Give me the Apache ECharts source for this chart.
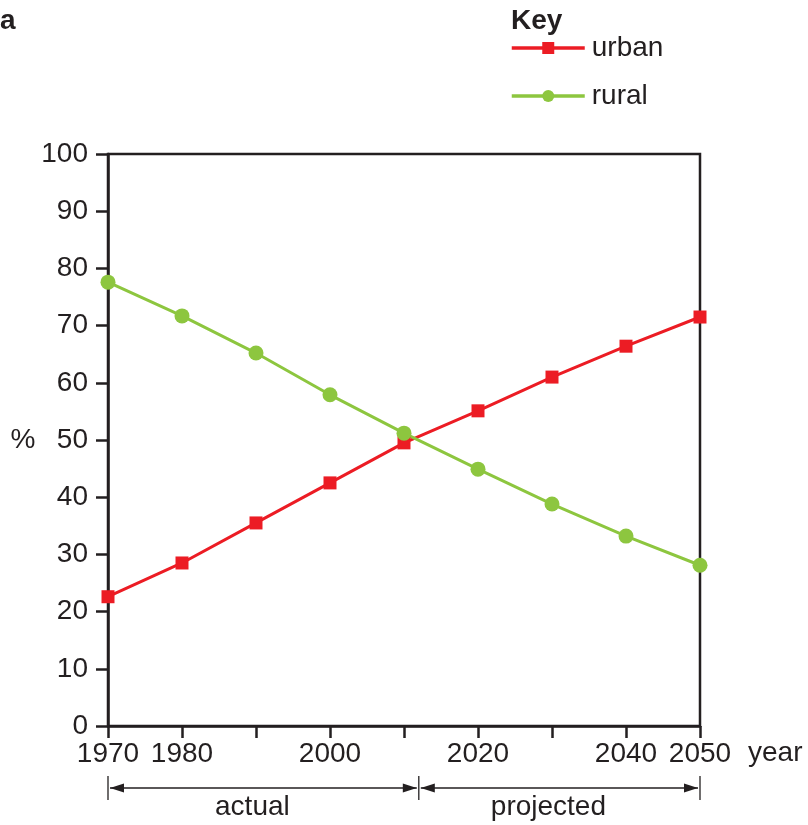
<!DOCTYPE html>
<html><head><meta charset="utf-8">
<script src="https://cdn.jsdelivr.net/npm/echarts@6/dist/echarts.min.js"></script>
<style>html,body{margin:0;padding:0;background:#fff}#c{width:808px;height:825px}</style>
</head><body><div id="c"></div>
<script>
const years = [1970, 1980, 1990, 2000, 2010, 2020, 2030, 2040, 2050];
const urban = [22.6, 28.5, 35.5, 42.5, 49.5, 55.1, 61.0, 66.4, 71.5];
const rural = [77.6, 71.7, 65.2, 57.9, 51.2, 44.9, 38.8, 33.2, 28.1];
const shownYearLabels = [1970, 1980, 2000, 2020, 2040, 2050];
const periodBounds = [1970, 2012, 2050];
const periodLabels = ['actual', 'projected'];

const FONT = '"Liberation Sans", Arial, Helvetica, sans-serif';
const FS = 28;
const INK = '#231f20';
const RED = '#ec1c24';
const GREEN = '#8dc63f';

const chart = echarts.init(document.getElementById('c'));
chart.setOption({
  animation: false,
  backgroundColor: '#fff',
  textStyle: { fontFamily: FONT, color: INK },
  grid: { left: 108, right: 108, top: 154, bottom: 99, show: true, borderColor: INK, borderWidth: 2.5, containLabel: false },
  legend: {
    orient: 'vertical', left: 505, top: 29, itemWidth: 73, itemHeight: 15, itemGap: 20,
    data: ['urban', 'rural'],
    lineStyle: { width: 3.5 },
    textStyle: { fontFamily: FONT, fontSize: FS, color: INK, padding: [0, 0, 0, 2] }
  },
  xAxis: {
    type: 'value', min: 1970, max: 2050, interval: 10,
    axisLine: { lineStyle: { color: INK, width: 2.5 } },
    axisTick: { show: true, length: 12, lineStyle: { color: INK, width: 2.5 } },
    splitLine: { show: false },
    axisLabel: {
      margin: 14, fontFamily: FONT, fontSize: FS, color: INK,
      formatter: v => shownYearLabels.includes(v) ? String(v) : ''
    }
  },
  yAxis: {
    type: 'value', min: 0, max: 100, interval: 10,
    name: '%', nameLocation: 'middle', nameRotate: 0, nameGap: 70,
    nameTextStyle: { fontFamily: FONT, fontSize: FS, color: INK },
    axisLine: { show: true, lineStyle: { color: INK, width: 2.5 } },
    axisTick: { show: true, length: 12, lineStyle: { color: INK, width: 2.5 } },
    splitLine: { show: false },
    axisLabel: { margin: 20, fontFamily: FONT, fontSize: FS, color: INK }
  },
  series: [
    { name: 'urban', type: 'line', data: years.map((y, i) => [y, urban[i]]),
      symbol: 'rect', symbolSize: 13, color: RED,
      lineStyle: { color: RED, width: 3 }, itemStyle: { color: RED } },
    { name: 'rural', type: 'line', data: years.map((y, i) => [y, rural[i]]),
      symbol: 'circle', symbolSize: 15, color: GREEN,
      lineStyle: { color: GREEN, width: 3 }, itemStyle: { color: GREEN } }
  ]
});

const px = periodBounds.map(v => chart.convertToPixel({ xAxisIndex: 0 }, v));
const gy = 788;
const els = [];
els.push({ type: 'text', left: 0, top: 7, style: { text: 'a', font: 'bold 28px ' + FONT, fill: INK } });
els.push({ type: 'text', left: 511, top: 7, style: { text: 'Key', font: 'bold 28px ' + FONT, fill: INK } });
els.push({ type: 'text', left: 748, top: 739, style: { text: 'year', font: FS + 'px ' + FONT, fill: INK } });
px.forEach(x => els.push({ type: 'line', shape: { x1: x, y1: gy - 12, x2: x, y2: gy + 12 }, style: { stroke: INK, lineWidth: 1.3 } }));
for (let i = 0; i < px.length - 1; i++) {
  const a = px[i] + 2, b = px[i + 1] - 2;
  els.push({ type: 'line', shape: { x1: a, y1: gy, x2: b, y2: gy }, style: { stroke: INK, lineWidth: 1.3 } });
  els.push({ type: 'polygon', shape: { points: [[a, gy], [a + 14, gy - 4.5], [a + 14, gy + 4.5]] }, style: { fill: INK } });
  els.push({ type: 'polygon', shape: { points: [[b, gy], [b - 14, gy - 4.5], [b - 14, gy + 4.5]] }, style: { fill: INK } });
  els.push({ type: 'text', x: (px[i] + px[i + 1]) / 2 - 11, y: 807, style: { text: periodLabels[i], font: FS + 'px ' + FONT, fill: INK, align: 'center', verticalAlign: 'middle' } });
}
chart.setOption({ graphic: els });
</script></body></html>
